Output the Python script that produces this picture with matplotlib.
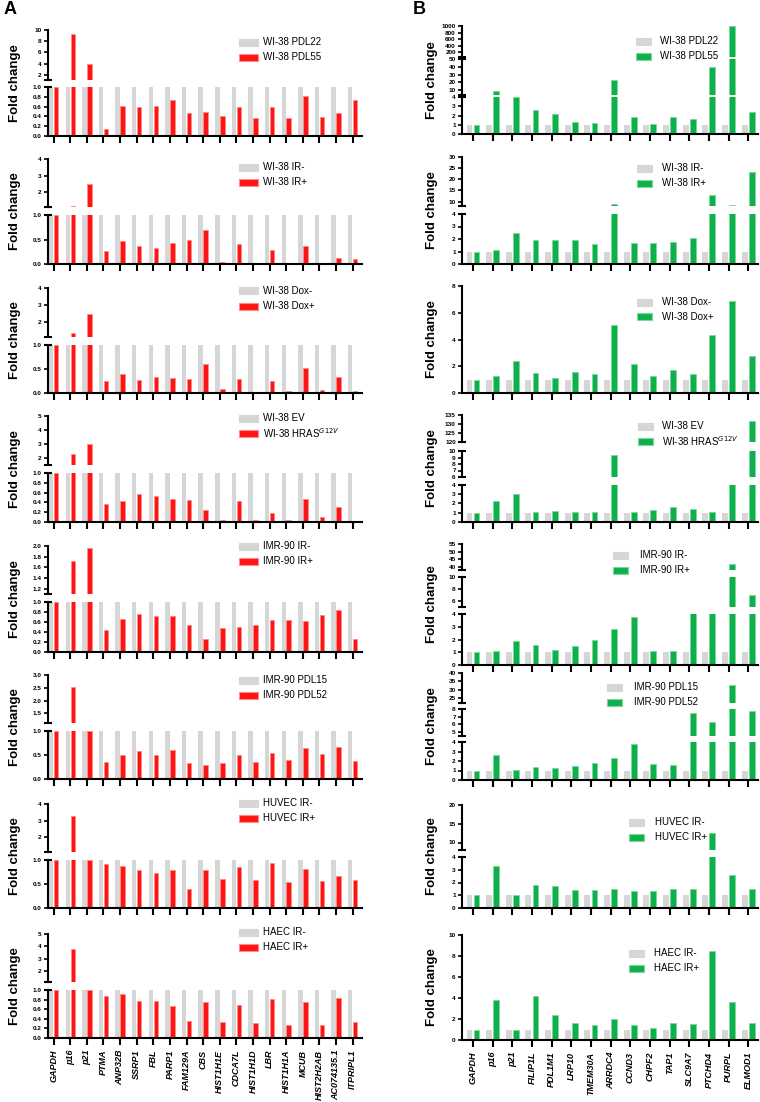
import matplotlib

matplotlib.use("Agg")
import matplotlib.pyplot as plt
import numpy as np
from matplotlib.patches import Rectangle

plt.rcParams["font.family"] = ["Liberation Sans", "DejaVu Sans"]

# ---- data -------------------------------------------------------------
left_genes = ["GAPDH", "p16", "p21", "PTMA", "ANP32B", "SSRP1", "FBL", "PARP1",
              "FAM129A", "CBS", "HIST1H1E", "CDCA7L", "HIST1H1D", "LBR",
              "HIST1H1A", "MCUB", "HIST2H2AB", "AC074135.1", "ITPRIPL1"]
right_genes = ["GAPDH", "p16", "p21", "FILIP1L", "PDL1M1", "LRP10", "TMEM30A",
               "ARRDC4", "CCND3", "CHPF2", "TAP1", "SLC9A7", "PTCHD4", "PURPL",
               "ELMOD1"]

left_control = [1.0] * 19
right_control = [1.0] * 15

# panel A (downregulated set), treated condition
a_wi38_pdl55 = [1.0, 9.3, 4.0, 0.15, 0.62, 0.60, 0.62, 0.73, 0.47, 0.48, 0.41,
                0.60, 0.36, 0.60, 0.37, 0.82, 0.38, 0.47, 0.74]
a_wi38_ir = [1.0, 1.18, 2.5, 0.26, 0.46, 0.37, 0.33, 0.43, 0.49, 0.70, 0.05,
             0.41, 0.02, 0.29, 0.03, 0.36, 0.03, 0.13, 0.11]
a_wi38_dox = [1.0, 1.34, 2.45, 0.24, 0.39, 0.28, 0.34, 0.31, 0.30, 0.61, 0.09,
              0.30, 0.01, 0.24, 0.04, 0.53, 0.07, 0.34, 0.04]
a_wi38_hras = [1.0, 2.3, 3.0, 0.37, 0.43, 0.58, 0.54, 0.47, 0.44, 0.25, 0.05,
               0.42, 0.04, 0.18, 0.04, 0.46, 0.10, 0.31, 0.0]
a_imr90_ir = [1.0, 1.72, 1.97, 0.45, 0.66, 0.77, 0.72, 0.72, 0.54, 0.26, 0.48,
              0.51, 0.54, 0.64, 0.65, 0.63, 0.74, 0.84, 0.27]
a_imr90_pdl52 = [1.0, 2.52, 1.0, 0.36, 0.50, 0.59, 0.50, 0.61, 0.34, 0.30, 0.34,
                 0.50, 0.36, 0.54, 0.40, 0.64, 0.52, 0.67, 0.38]
a_huvec_ir = [1.0, 3.28, 1.0, 0.91, 0.87, 0.79, 0.73, 0.79, 0.40, 0.79, 0.61,
              0.85, 0.59, 0.94, 0.55, 0.82, 0.57, 0.67, 0.58]
a_haec_ir = [1.0, 3.8, 1.0, 0.88, 0.91, 0.77, 0.77, 0.66, 0.36, 0.74, 0.34,
             0.68, 0.31, 0.82, 0.27, 0.74, 0.27, 0.83, 0.33]

# panel B (upregulated set), treated condition
b_wi38_pdl55 = [1.0, 9.1, 3.95, 2.55, 2.15, 1.25, 1.2, 23.0, 1.85, 1.05, 1.85,
                1.6, 40.0, 1000.0, 2.4]
b_wi38_ir = [1.0, 1.15, 2.5, 1.9, 1.9, 1.9, 1.6, 8.8, 1.7, 1.7, 1.8, 2.1, 12.9,
             8.5, 23.2]
b_wi38_dox = [1.0, 1.3, 2.4, 1.5, 1.1, 1.6, 1.4, 5.1, 2.2, 1.3, 1.7, 1.4, 4.3,
              6.9, 2.8]
b_wi38_hras = [1.0, 2.3, 3.0, 1.1, 1.2, 1.1, 1.1, 9.4, 1.1, 1.3, 1.6, 1.4, 1.1,
               5.0, 131.7]
b_imr90_ir = [1.0, 1.1, 1.9, 1.6, 1.2, 1.5, 2.0, 2.8, 3.8, 1.1, 1.1, 4.2, 4.2,
              42.0, 7.0]
b_imr90_pdl52 = [1.0, 2.6, 1.1, 1.4, 1.3, 1.5, 1.8, 2.3, 3.8, 1.7, 1.6, 7.5,
                 6.3, 33.0, 7.8]
b_huvec_ir = [1.0, 3.3, 1.0, 1.8, 1.7, 1.4, 1.4, 1.5, 1.3, 1.3, 1.5, 1.5, 12.5,
              2.6, 1.5]
b_haec_ir = [1.0, 3.8, 1.0, 4.2, 2.4, 1.6, 1.4, 2.0, 1.4, 1.1, 1.6, 1.5, 8.5,
             3.6, 1.6]

left_labels = [("WI-38 PDL22", "WI-38 PDL55"), ("WI-38 IR-", "WI-38 IR+"),
               ("WI-38 Dox-", "WI-38 Dox+"), ("WI-38 EV", "WI-38 HRAS$^{G12V}$"),
               ("IMR-90 IR-", "IMR-90 IR+"), ("IMR-90 PDL15", "IMR-90 PDL52"),
               ("HUVEC IR-", "HUVEC IR+"), ("HAEC IR-", "HAEC IR+")]
right_labels = left_labels

left_values = [a_wi38_pdl55, a_wi38_ir, a_wi38_dox, a_wi38_hras, a_imr90_ir,
               a_imr90_pdl52, a_huvec_ir, a_haec_ir]
right_values = [b_wi38_pdl55, b_wi38_ir, b_wi38_dox, b_wi38_hras, b_imr90_ir,
                b_imr90_pdl52, b_huvec_ir, b_haec_ir]

# ---- layout (pixel based) --------------------------------------------
W, H = 760, 1102
GREY = "#d6d6d6"
RED, RED_EDGE = "#ff1414", "#ff8a8a"
GREEN, GREEN_EDGE = "#0db14b", "#7fd69c"

fig = plt.figure(figsize=(W / 100, H / 100), dpi=100)

dec1 = "{:.1f}"
intf = "{:g}"
fine = [0.0, 0.2, 0.4, 0.6, 0.8, 1.0]
half = [0.0, 0.5, 1.0]

# each segment: (y_top_px, y_bottom_px, lo, hi, ticks, fmt), top to bottom
left_segs = [
    [(30, 80, 1.1, 10, [2, 4, 6, 8, 10], intf), (87, 136, 0, 1, fine, dec1)],
    [(159, 207, 1.1, 4, [2, 3, 4], intf), (215, 264, 0, 1, half, dec1)],
    [(288, 337, 1.1, 4, [2, 3, 4], intf), (345, 393, 0, 1, half, dec1)],
    [(416, 465, 1.5, 5, [2, 3, 4, 5], intf), (473, 522, 0, 1, fine, dec1)],
    [(546, 594, 1.1, 2.0, [1.2, 1.4, 1.6, 1.8, 2.0], dec1), (602, 652, 0, 1, fine, dec1)],
    [(675, 723, 1.12, 3.0, [1.5, 2.0, 2.5, 3.0], dec1), (731, 779, 0, 1, half, dec1)],
    [(804, 852, 1.12, 4, [2, 3, 4], intf), (860, 908, 0, 1, half, dec1)],
    [(934, 982, 1.1, 5, [2, 3, 4, 5], intf), (990, 1038, 0, 1, fine, dec1)],
]
four = [0, 1, 2, 3, 4]
right_segs = [
    [(26, 57, 50, 1000, [200, 400, 600, 800, 1000], intf),
     (59, 95, 4, 50, [10, 20, 30, 40, 50], intf),
     (97, 134, 0, 4, four, intf)],
    [(157, 206, 8, 30, [10, 15, 20, 25, 30], intf), (214, 264, 0, 4, four, intf)],
    [(286, 393, 0, 8, [0, 2, 4, 6, 8], intf)],
    [(415, 442, 120, 135, [120, 125, 130, 135], intf),
     (451, 477, 6, 10, [6, 7, 8, 9, 10], intf),
     (485, 522, 0, 4, four, intf)],
    [(544, 570, 38, 55, [40, 45, 50, 55], intf),
     (577, 607, 5, 10, [6, 8, 10], intf),
     (614, 665, 0, 4, four, intf)],
    [(673, 703, 22, 40, [25, 30, 35, 40], intf),
     (709, 736, 4.5, 8, [5, 6, 7, 8], intf),
     (742, 780, 0, 4, four, intf)],
    [(805, 850, 8, 20, [10, 15, 20], intf), (857, 908, 0, 4, four, intf)],
    [(935, 1040, 0, 10, [0, 2, 4, 6, 8, 10], intf)],
]

# legend placement: (handle x, text x, first row y)
left_legend_pos = [(239, 263, y) for y in (42, 167, 291, 418, 546, 680, 803, 932)]
right_legend_pos = [(636, 660, 41), (637, 662, 168), (637, 662, 302),
                    (638, 662, 426), (613, 640, 555), (607, 634, 687),
                    (629, 655, 822), (629, 654, 953)]


def add_ax(x0, x1, y0, y1):
    return fig.add_axes([x0 / W, 1 - y1 / H, (x1 - x0) / W, (y1 - y0) / H])


def draw_panel(x0, x1, segs, genes, control, values, color, edge, offs, width,
               xlim, last_row):
    n = len(genes)
    x = np.arange(n)
    for k, (yt, yb, lo, hi, ticks, fmt) in enumerate(segs):
        ax = add_ax(x0, x1, yt, yb)
        ax.set_facecolor("none")
        ax.bar(x + offs[0], control, width, color=GREY, linewidth=0)
        ax.bar(x + offs[1], values, width, color=color, edgecolor=edge,
               linewidth=0.6)
        ax.set_xlim(*xlim)
        ax.set_ylim(lo, hi)
        ax.set_yticks(ticks)
        ax.set_yticklabels([fmt.format(t) for t in ticks], fontsize=4.6,
                           fontweight="bold")
        ax.tick_params(axis="y", length=3, width=1.2, pad=1.5)
        for s in ("top", "right"):
            ax.spines[s].set_visible(False)
        ax.spines["left"].set_linewidth(1.5)
        ax.spines["bottom"].set_linewidth(1.5)
        bottom = k == len(segs) - 1
        if not bottom:
            ax.spines["bottom"].set_visible(False)
            ax.tick_params(axis="x", bottom=False, labelbottom=False)
            ax.plot([0], [0], marker="_", ms=6, mew=1.5, color="black",
                    transform=ax.transAxes, clip_on=False)
        else:
            ax.set_xticks(x)
            ax.tick_params(axis="x", length=5, width=1.5)
            if last_row:
                ax.set_xticklabels(genes, rotation=90, fontsize=6.5,
                                   fontstyle="italic", fontweight="bold")
            else:
                ax.set_xticklabels([])
        if k > 0:
            ax.plot([0], [1], marker="_", ms=6, mew=1.5, color="black",
                    transform=ax.transAxes, clip_on=False)


def legend(pos, labels, color, edge, hw):
    x_handle, x_text, y = pos
    for i, (lab, fc, ec) in enumerate(zip(labels, (GREY, color), (GREY, edge))):
        yy = y + i * 15
        fig.patches.append(Rectangle((x_handle / W, 1 - (yy + 3.5) / H),
                                     hw / W, 7 / H, transform=fig.transFigure,
                                     facecolor=fc, edgecolor=ec, linewidth=0.8))
        fig.text(x_text / W, 1 - yy / H, lab, fontsize=7, va="center",
                 ha="left")


for r in range(8):
    draw_panel(48, 362, left_segs[r], left_genes, left_control, left_values[r],
               RED, RED_EDGE, (-0.15, 0.15), 0.27, (-0.34, 18.56), r == 7)
    draw_panel(462, 758, right_segs[r], right_genes, right_control,
               right_values[r], GREEN, GREEN_EDGE, (-0.18, 0.18), 0.3,
               (-0.56, 14.5), r == 7)
    ytop = left_segs[r][0][0]
    ybot = left_segs[r][-1][1]
    fig.text(15 / W, 1 - (ytop + ybot) / 2 / H, "Fold change", rotation=90,
             fontsize=9.5, fontweight="bold", ha="center", va="center")
    ytop = right_segs[r][0][0]
    ybot = right_segs[r][-1][1]
    fig.text(432 / W, 1 - (ytop + ybot) / 2 / H, "Fold change", rotation=90,
             fontsize=9.5, fontweight="bold", ha="center", va="center")
    legend(left_legend_pos[r], left_labels[r], RED, RED_EDGE, 19)
    legend(right_legend_pos[r], right_labels[r], GREEN, GREEN_EDGE, 15)

fig.text(4 / W, 1 - 10 / H, "A", fontsize=13, fontweight="bold", va="center")
fig.text(413 / W, 1 - 10 / H, "B", fontsize=13, fontweight="bold", va="center")

fig.savefig("out.png", dpi=100)
